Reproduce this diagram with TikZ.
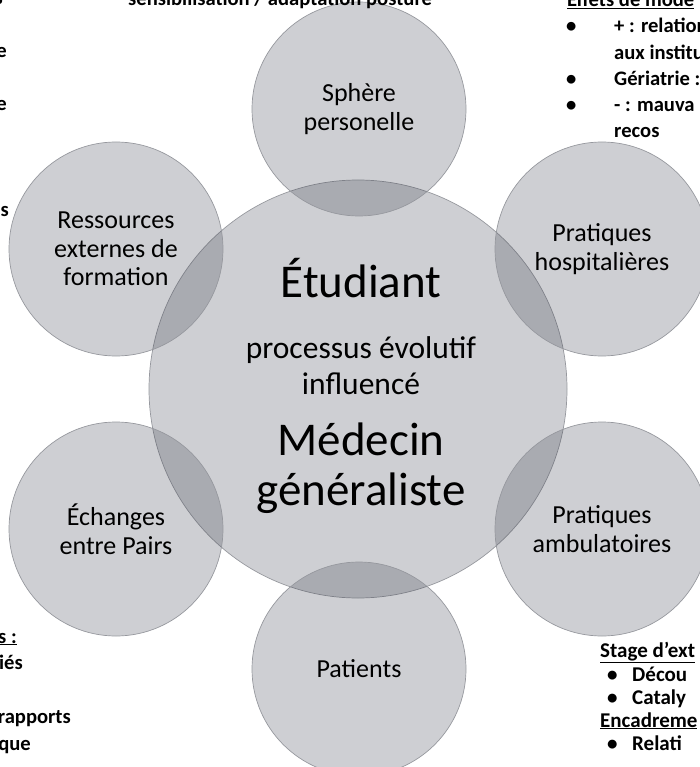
\documentclass[tikz,border=0pt]{standalone}
\usepackage{fontspec}
\setmainfont{Carlito}
\usepackage{tikz}
\definecolor{bulle}{RGB}{60,64,78}
\definecolor{bord}{RGB}{150,152,158}

\begin{document}
\begin{tikzpicture}[x=1pt,y=-1pt,every node/.style={black},
	bulle/.style={circle,draw=bord,line width=0.7pt,fill=bulle,fill opacity=0.25,text opacity=1,
		minimum size=214pt,inner sep=0pt,align=center,font=\fontsize{26}{28.5}\selectfont},
	marge/.style={inner sep=0pt,font=\bfseries\fontsize{20.6}{26}\selectfont},
	petit/.style={inner sep=0pt,font=\bfseries\fontsize{21}{23}\selectfont}]
	\useasboundingbox (0,0) rectangle (699,767);
	\node[bulle,minimum size=418pt] (E) at (358,389) {};
	\node[bulle] (S) at (359,109) {Sphère\\personelle};
	\node[bulle] (R) at (116,249) {Ressources\\externes de\\formation};
	\node[bulle] (H) at (602,249) {Pratiques\\hospitalières};
	\node[bulle] (P) at (116,529) {Échanges\\entre Pairs};
	\node[bulle] (A) at (602,529) {Pratiques\\ambulatoires};
	\node[bulle] (T) at (359,669) {Patients};
	\node[anchor=base,font=\fontsize{47}{50}\selectfont] (etu) at (361,297) {Étudiant};
	\node[align=center,font=\fontsize{31.5}{36}\selectfont] (proc) at (361,366) {processus évolutif\\influencé};
	\node[align=center,font=\fontsize{47}{50}\selectfont] (med) at (361,468) {Médecin\\généraliste};
	\node[marge,anchor=base east] (g1) at (3,5) {s};
	\node[marge,anchor=base east] (g2) at (7,58) {e};
	\node[marge,anchor=base east] (g3) at (7,111) {e};
	\node[marge,anchor=base east] (g4) at (9,217) {ts};
	\node[marge,anchor=base west] (sens) at (128,6) {sensibilisation / adaptation posture};
	\node[marge,anchor=base west] (mode) at (567,7) {\underline{Effets de mode}};
	\node[marge,anchor=base west] (m1) at (566,33) {•};
	\node[marge,anchor=base west] (d1) at (614,33) {+ : relation};
	\node[marge,anchor=base west] (d2) at (614,60) {aux institu};
	\node[marge,anchor=base west] (m2) at (566,86) {•};
	\node[marge,anchor=base west] (d3) at (614,86) {Gériatrie :};
	\node[marge,anchor=base west] (m3) at (566,112) {•};
	\node[marge,anchor=base west] (d4) at (614,112) {- :  mauva};
	\node[marge,anchor=base west] (d5) at (614,138) {recos};
	\node[marge,anchor=base east] (b1) at (17,643) {\underline{s :}};
	\node[marge,anchor=base east] (b2) at (23,669) {iés};
	\node[marge,anchor=base east] (b3) at (71,723) {rapports};
	\node[marge,anchor=base east] (b4) at (31,750) {que};
	\node[petit,anchor=base west] (stage) at (600,657) {\underline{Stage d’ext}};
	\node[petit,anchor=base west] (n1) at (607,681) {•};
	\node[petit,anchor=base west] (s1) at (632,681) {Décou};
	\node[petit,anchor=base west] (n2) at (607,704) {•};
	\node[petit,anchor=base west] (s2) at (632,704) {Cataly};
	\node[petit,anchor=base west] (enc) at (600,727) {\underline{Encadreme}};
	\node[petit,anchor=base west] (n3) at (607,750) {•};
	\node[petit,anchor=base west] (s3) at (632,750) {Relati};
\end{tikzpicture}
\end{document}
